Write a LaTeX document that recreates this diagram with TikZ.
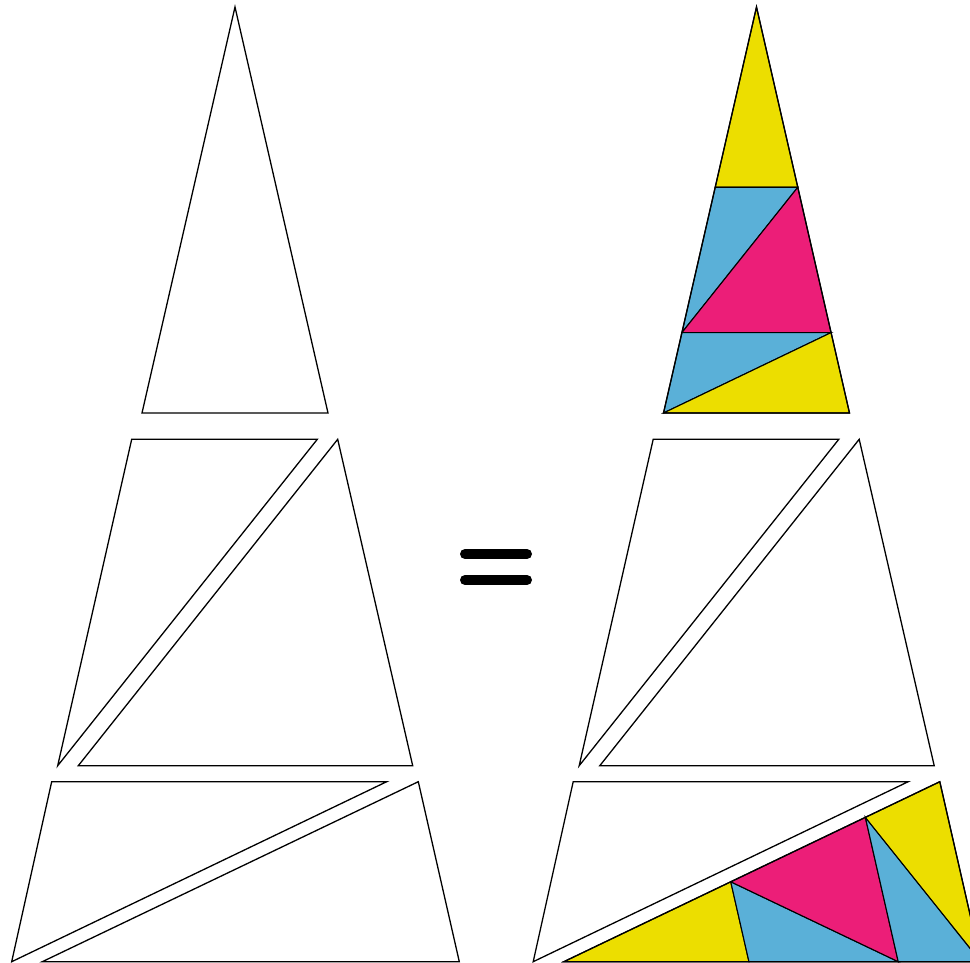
\documentclass[tikz,border=0pt]{standalone}
\usetikzlibrary{calc}
\definecolor{pyellow}{HTML}{ECDE00}
\definecolor{pblue}{HTML}{5AB0D8}
\definecolor{ppink}{HTML}{EC1E78}
\tikzset{
  piece/.style={draw=black,line width=1.3pt,line join=miter,fill=white},
  cpiece/.style={draw=black,line width=1.1pt,line join=miter},
  eqbar/.style={line width=10pt,line cap=round}
}
\begin{document}
\begin{tikzpicture}[x=1pt,y=-1pt]
\clip (0,0) rectangle (970,963);
\fill[white] (0,0) rectangle (970,963);
% shared geometry (local coordinates)
\coordinate (A) at (235,7);
\coordinate (B) at (142,413);
\coordinate (C) at (328,413);
% ---------- left tower ----------
\draw[piece] (235,7) -- (142,413) -- (328,413) -- cycle;
\draw[piece] (131.7,439.3) -- (317.3,439.3) -- (57.7,765.7) -- cycle;
\draw[piece] (337.7,439.3) -- (78.3,765.7) -- (412.7,765.7) -- cycle;
\draw[piece] (51.7,781.7) -- (386.7,781.7) -- (11.7,961.7) -- cycle;
\draw[piece] (418.3,781.7) -- (42.3,961.7) -- (459.3,961.7) -- cycle;
% ---------- equals sign ----------
\coordinate (e1a) at (465,554); \coordinate (e1b) at (527,554);
\coordinate (e2a) at (465,580); \coordinate (e2b) at (527,580);
\draw[eqbar] (e1a) -- (e1b);
\draw[eqbar] (e2a) -- (e2b);
% ---------- right tower ----------
\begin{scope}[xshift=521.5pt]
  \coordinate (TA) at (235,7);
  \coordinate (TB) at (142,413);
  \coordinate (TC) at (328,413);
  \coordinate (TL1) at ($(TA)!0.444!(TB)$);
  \coordinate (TR1) at ($(TA)!0.444!(TC)$);
  \coordinate (TL2) at ($(TA)!0.802!(TB)$);
  \coordinate (TR2) at ($(TA)!0.802!(TC)$);
  \draw[cpiece,fill=pyellow] (TA) -- (TL1) -- (TR1) -- cycle;
  \draw[cpiece,fill=pblue] (TL1) -- (TR1) -- (TL2) -- cycle;
  \draw[cpiece,fill=ppink] (TR1) -- (TL2) -- (TR2) -- cycle;
  \draw[cpiece,fill=pblue] (TL2) -- (TR2) -- (TB) -- cycle;
  \draw[cpiece,fill=pyellow] (TR2) -- (TB) -- (TC) -- cycle;
  \draw[piece,fill=none] (TA) -- (TB) -- (TC) -- cycle;
  \draw[piece] (131.7,439.3) -- (317.3,439.3) -- (57.7,765.7) -- cycle;
  \draw[piece] (337.7,439.3) -- (78.3,765.7) -- (412.7,765.7) -- cycle;
  \draw[piece] (51.7,781.7) -- (386.7,781.7) -- (11.7,961.7) -- cycle;
  \coordinate (BA) at (42.3,961.7);
  \coordinate (BU) at (418.3,781.7);
  \coordinate (BW) at (459.3,961.7);
  \coordinate (u1) at ($(BA)!0.444!(BU)$);
  \coordinate (w1) at ($(BA)!0.444!(BW)$);
  \coordinate (u2) at ($(BA)!0.802!(BU)$);
  \coordinate (w2) at ($(BA)!0.802!(BW)$);
  \draw[cpiece,fill=pyellow] (BA) -- (u1) -- (w1) -- cycle;
  \draw[cpiece,fill=pblue] (w1) -- (u1) -- (w2) -- cycle;
  \draw[cpiece,fill=ppink] (u1) -- (w2) -- (u2) -- cycle;
  \draw[cpiece,fill=pblue] (w2) -- (u2) -- (BW) -- cycle;
  \draw[cpiece,fill=pyellow] (u2) -- (BW) -- (BU) -- cycle;
  \draw[piece,fill=none] (BA) -- (BU) -- (BW) -- cycle;
\end{scope}
\end{tikzpicture}
\end{document}
